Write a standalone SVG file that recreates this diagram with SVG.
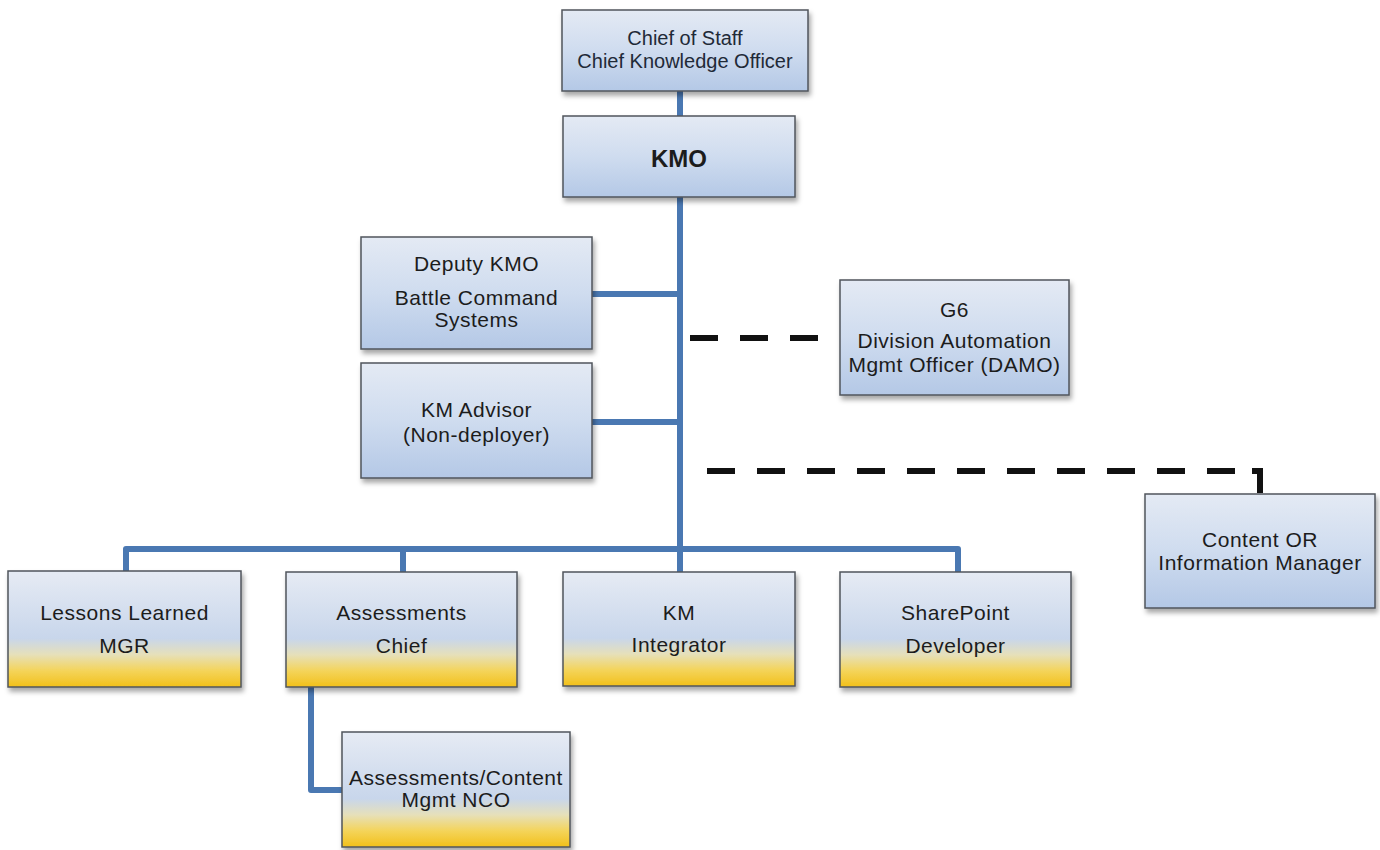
<svg xmlns="http://www.w3.org/2000/svg" width="1380" height="850" viewBox="0 0 1380 850">
  <style>
    .box { stroke: #50555c; stroke-width: 1.5; filter: url(#shadow); }
    .blue { fill: url(#gBlue); }
    .gold { fill: url(#gGold); }
    .t { font-family: "Liberation Sans", Arial, sans-serif; font-size: 21px; fill: #1c1c1c; text-anchor: middle; letter-spacing: 0.5px; }
    .t2 { font-family: "Liberation Sans", Arial, sans-serif; font-size: 20px; fill: #1f2a38; text-anchor: middle; }
    .kmo { font-family: "Liberation Sans", Arial, sans-serif; font-size: 24px; font-weight: bold; fill: #1c1c1c; text-anchor: middle; }
    .solid { fill: none; stroke: #4a78b2; stroke-width: 6; stroke-linejoin: round; }
    .dash { fill: none; stroke: #111; stroke-width: 6; stroke-dasharray: 28 22; }
    .hook { fill: none; stroke: #111; stroke-width: 6; }
  </style>
  <defs>
    <linearGradient id="gBlue" x1="0" y1="0" x2="0" y2="1">
      <stop offset="0" stop-color="#e4eaf4"/>
      <stop offset="0.5" stop-color="#cfdcef"/>
      <stop offset="1" stop-color="#b4c8e6"/>
    </linearGradient>
    <linearGradient id="gGold" x1="0" y1="0" x2="0" y2="1">
      <stop offset="0" stop-color="#e6ebf4"/>
      <stop offset="0.58" stop-color="#c8d6eb"/>
      <stop offset="0.72" stop-color="#e6e0ba"/>
      <stop offset="0.86" stop-color="#f4d45a"/>
      <stop offset="1" stop-color="#f2c01a"/>
    </linearGradient>
    <filter id="shadow" x="-10%" y="-10%" width="125%" height="135%">
      <feDropShadow dx="2" dy="4" stdDeviation="2.5" flood-color="#000" flood-opacity="0.35"/>
    </filter>
  </defs>

  <rect width="1380" height="850" fill="#ffffff"/>

  <!-- reporting lines -->
  <g id="connectors">
    <path class="solid" d="M680,91 V549"/>
    <path class="solid" d="M592,294 H680"/>
    <path class="solid" d="M592,422 H680"/>
    <path class="solid" d="M126,572 V549 H958 V572"/>
    <path class="solid" d="M403,549 V572"/>
    <path class="solid" d="M680,549 V572"/>
    <path class="solid" d="M311,687 V790 H342"/>
    <path class="dash" d="M690,338 H818"/>
    <path class="dash" d="M707,471 H1235"/>
    <path class="hook" d="M1252,471 H1260 V493"/>
  </g>

  <g id="chief-of-staff">
    <rect class="box blue" x="562" y="10" width="246" height="81"/>
    <text class="t2" x="685" y="45">Chief of Staff</text>
    <text class="t2" x="685" y="68">Chief Knowledge Officer</text>
  </g>

  <g id="kmo">
    <rect class="box blue" x="563" y="116" width="232" height="81"/>
    <text class="kmo" x="679" y="167">KMO</text>
  </g>

  <g id="deputy-kmo">
    <rect class="box blue" x="361" y="237" width="231" height="112"/>
    <text class="t" x="476.5" y="271">Deputy KMO</text>
    <text class="t" x="476.5" y="305">Battle Command</text>
    <text class="t" x="476.5" y="327">Systems</text>
  </g>

  <g id="km-advisor">
    <rect class="box blue" x="361" y="363" width="231" height="115"/>
    <text class="t" x="476.5" y="417">KM Advisor</text>
    <text class="t" x="476.5" y="442">(Non-deployer)</text>
  </g>

  <g id="g6-damo">
    <rect class="box blue" x="840" y="280" width="229" height="115"/>
    <text class="t" x="954.5" y="317">G6</text>
    <text class="t" x="954.5" y="348">Division Automation</text>
    <text class="t" x="954.5" y="372">Mgmt Officer (DAMO)</text>
  </g>

  <g id="content-manager">
    <rect class="box blue" x="1145" y="494" width="230" height="114"/>
    <text class="t" x="1260" y="547">Content OR</text>
    <text class="t" x="1260" y="570">Information Manager</text>
  </g>

  <g id="lessons-learned">
    <rect class="box gold" x="8" y="571" width="233" height="116"/>
    <text class="t" x="124.5" y="620">Lessons Learned</text>
    <text class="t" x="124.5" y="653">MGR</text>
  </g>

  <g id="assessments-chief">
    <rect class="box gold" x="286" y="572" width="231" height="115"/>
    <text class="t" x="401.5" y="620">Assessments</text>
    <text class="t" x="401.5" y="653">Chief</text>
  </g>

  <g id="km-integrator">
    <rect class="box gold" x="563" y="572" width="232" height="114"/>
    <text class="t" x="679" y="620">KM</text>
    <text class="t" x="679" y="652">Integrator</text>
  </g>

  <g id="sharepoint-developer">
    <rect class="box gold" x="840" y="572" width="231" height="115"/>
    <text class="t" x="955.5" y="620">SharePoint</text>
    <text class="t" x="955.5" y="653">Developer</text>
  </g>

  <g id="assessments-nco">
    <rect class="box gold" x="342" y="732" width="228" height="115"/>
    <text class="t" x="456" y="785">Assessments/Content</text>
    <text class="t" x="456" y="807">Mgmt NCO</text>
  </g>
</svg>
